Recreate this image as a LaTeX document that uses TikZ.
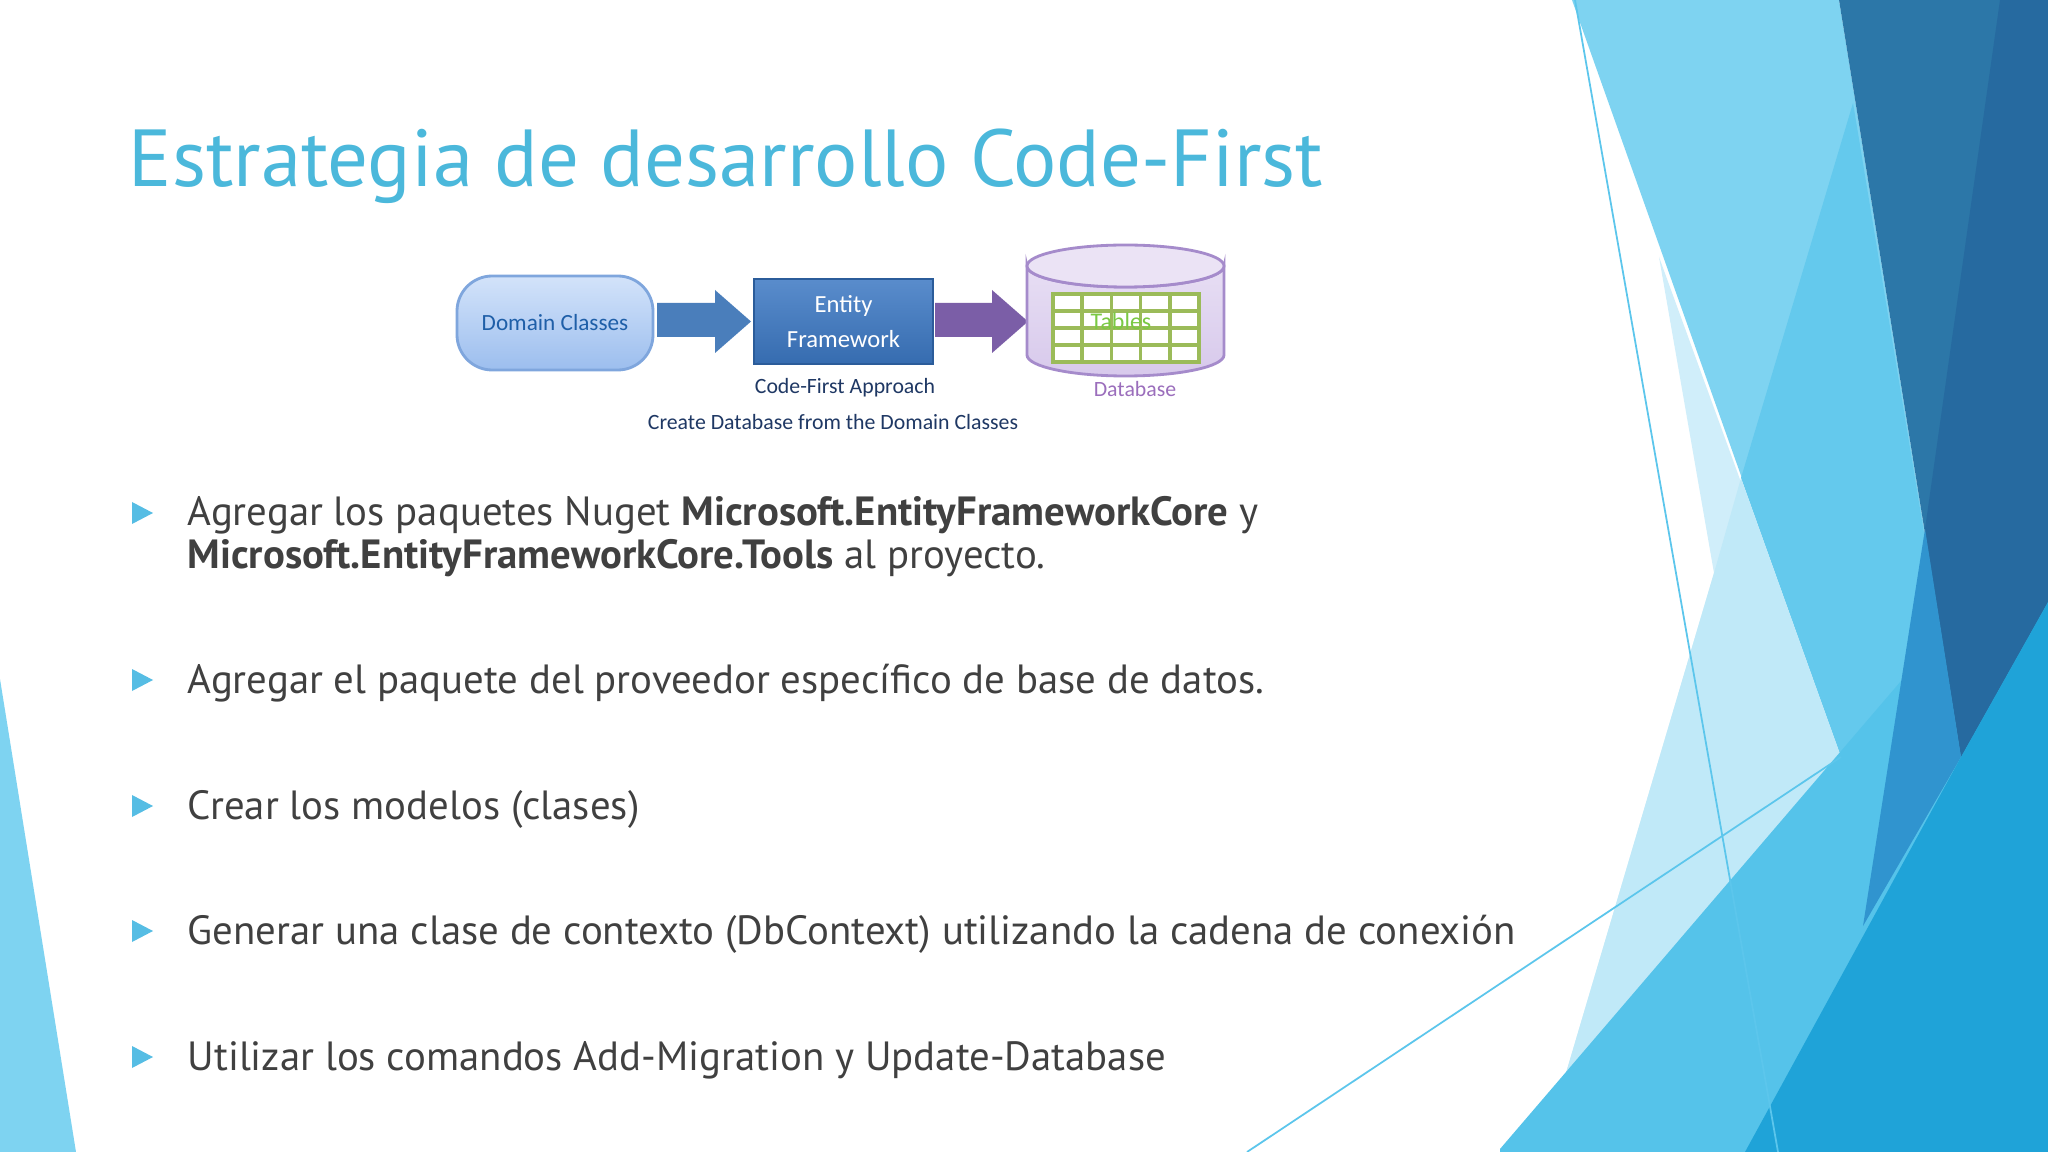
\documentclass[tikz,border=0pt]{standalone}
\usepackage{fontspec}
\setmainfont{PT Sans}
\newfontfamily\diagfont{Carlito}
\definecolor{titleblue}{HTML}{4BB8DB}
\definecolor{bodygray}{HTML}{404040}
\definecolor{bulletblue}{HTML}{56BDE4}
\definecolor{lightsky}{HTML}{7ED3F1}
\definecolor{medsky}{HTML}{64C9ED}
\definecolor{palesky}{HTML}{D0EEFA}
\definecolor{bandsky}{HTML}{55C3EA}
\definecolor{darkblue}{HTML}{2C77A8}
\definecolor{darkerblue}{HTML}{266AA0}
\definecolor{midblue}{HTML}{3094CF}
\definecolor{deepsky}{HTML}{1FA3D8}
\definecolor{lineblue}{HTML}{5CC6EC}
\definecolor{dctop}{HTML}{D3E3FA}
\definecolor{dcbot}{HTML}{9CBEEE}
\definecolor{dcborder}{HTML}{7FA6DD}
\definecolor{dctext}{HTML}{1F5FA8}
\definecolor{efblue}{HTML}{3C78C3}
\definecolor{efborder}{HTML}{2B5C9A}
\definecolor{arrowblue}{HTML}{4A7EBB}
\definecolor{arrowpurple}{HTML}{7B5EA7}
\definecolor{dbfill}{HTML}{DDD0EF}
\definecolor{dbborder}{HTML}{A58BCB}
\definecolor{gridgreen}{HTML}{9BBB59}
\definecolor{tablegreen}{HTML}{7AC943}
\definecolor{capnavy}{HTML}{1F3864}
\definecolor{dbpurple}{HTML}{7030A0}
\tikzset{
  bodytext/.style={anchor=base west, text=bodygray, font=\fontsize{11.6}{14}\selectfont, inner sep=0pt},
  bullettri/.style={fill=bulletblue, draw=none},
  captext/.style={text=capnavy, font=\diagfont\fontsize{6.2}{7}\selectfont, inner sep=0pt},
}
\begin{document}
\begin{tikzpicture}[x=0.01cm,y=-0.01cm]
\useasboundingbox (0,0) rectangle (2048,1152);
\fill[white] (0,0) rectangle (2048,1152);
% background decoration
\fill[lightsky] (0,679) -- (76,1152) -- (0,1152) -- cycle;
\fill[lightsky] (1572,0) -- (1839,0) -- (1961,757) -- (1841,757) -- cycle;
\fill[medsky] (1853,103) -- (1741,478) -- (1841,757) -- (1961,757) -- cycle;
\fill[palesky] (1659,257) -- (1841,757) -- (1566,1073) -- (1714,573) -- cycle;
\fill[palesky!80!lightsky] (1741,478) -- (1841,757) -- (1566,1073) -- (1714,573) -- cycle;
\fill[bandsky] (1500,1152) -- (1500,1149) -- (1937,639) -- (2048,519) -- (2048,1152) -- cycle;
\fill[darkblue] (1839,0) -- (2048,0) -- (2048,602) -- (1961,757) -- cycle;
\fill[darkerblue] (2000,0) -- (2048,0) -- (2048,602) -- (1961,757) -- (1925,529) -- cycle;
\fill[midblue] (1925,529) -- (1961,757) -- (1863,926) -- cycle;
\fill[deepsky] (1961,757) -- (2048,602) -- (2048,1152) -- (1745,1152) -- cycle;
\coordinate (l1a) at (1575,0); \coordinate (l1b) at (1778,1152);
\coordinate (l2a) at (1247,1152); \coordinate (l2b) at (1841,757);
\draw[lineblue, line width=0.5pt] (l1a) -- (l1b);
\draw[lineblue, line width=0.5pt] (l2a) -- (l2b);
% title
\node[anchor=base west, inner sep=0pt, text=titleblue, font=\fontsize{23}{26}\selectfont] (title) at (128,187) {Estrategia de desarrollo Code-First};
% diagram
\node[draw=dcborder, line width=0.8pt, rounded corners=10pt, top color=dctop, bottom color=dcbot, minimum width=196*0.01cm, minimum height=94*0.01cm, text=dctext, font=\diagfont\fontsize{6.6}{8}\selectfont] (dc) at (555,323) {Domain Classes};
\node[draw=efborder, line width=0.8pt, top color=efblue!85!white, bottom color=efblue!90!black, minimum width=179*0.01cm, minimum height=85*0.01cm, text=white, align=center, font=\diagfont\fontsize{7}{10}\selectfont] (ef) at (843.5,321.5) {Entity\\Framework};
\fill[arrowblue] (657,303) -- (715,303) -- (715,290) -- (751,321.5) -- (715,353) -- (715,337) -- (657,337) -- cycle;
\fill[arrowpurple] (935,303) -- (992,303) -- (992,290) -- (1028,321.5) -- (992,353) -- (992,337) -- (935,337) -- cycle;
% cylinder
\path[draw=dbborder, line width=0.8pt, top color=dbfill!70!white, bottom color=dbfill!90!dbborder] (1027,266) -- (1027,355) arc[start angle=180,end angle=0,x radius=98.5,y radius=21] -- (1224,266) arc[start angle=0,end angle=180,x radius=98.5,y radius=21] -- cycle;
\draw[dbborder, line width=0.8pt, fill=dbfill!60!white] (1125.5,266) ellipse [x radius=98.5, y radius=21];
\node[inner sep=0pt, minimum width=146*0.01cm, minimum height=68*0.01cm, fill=white, draw=gridgreen, line width=1.2pt] (grid) at (1126,328) {};
\foreach \i in {1,...,4} \draw[gridgreen, line width=1pt] (1053+\i*29.2,294) -- (1053+\i*29.2,362);
\foreach \j in {1,...,3} \draw[gridgreen, line width=1pt] (1053,294+\j*17) -- (1199,294+\j*17);
\node[text=tablegreen, font=\diagfont\fontsize{6.8}{8}\selectfont, inner sep=0pt] (tables) at (1121,321) {Tables};
\node[text=dbpurple!70!white, font=\diagfont\fontsize{6.2}{7}\selectfont, inner sep=0pt] (db) at (1135,389) {Database};
\node[captext] (cap1) at (845,388) {Code-First Approach};
\node[captext] (cap2) at (833,422) {Create Database from the Domain Classes};
% bullets
\foreach \y/\n in {513/b1,680/b2,806/b3,931/b4,1057/b5}
  \fill[bullettri] (132,\y-11) -- (153,\y) -- (132,\y+11) -- cycle;
\node[bodytext] (t1) at (187,526) {Agregar los paquetes Nuget \textbf{Microsoft.EntityFrameworkCore} y};
\node[bodytext] (t1b) at (187,568) {\textbf{Microsoft.EntityFrameworkCore.Tools} al proyecto.};
\node[bodytext] (t2) at (187,693) {Agregar el paquete del proveedor específico de base de datos.};
\node[bodytext] (t3) at (187,819) {Crear los modelos (clases)};
\node[bodytext] (t4) at (187,944) {Generar una clase de contexto (DbContext) utilizando la cadena de conexión};
\node[bodytext] (t5) at (187,1070) {Utilizar los comandos Add-Migration y Update-Database};
\end{tikzpicture}
\end{document}
